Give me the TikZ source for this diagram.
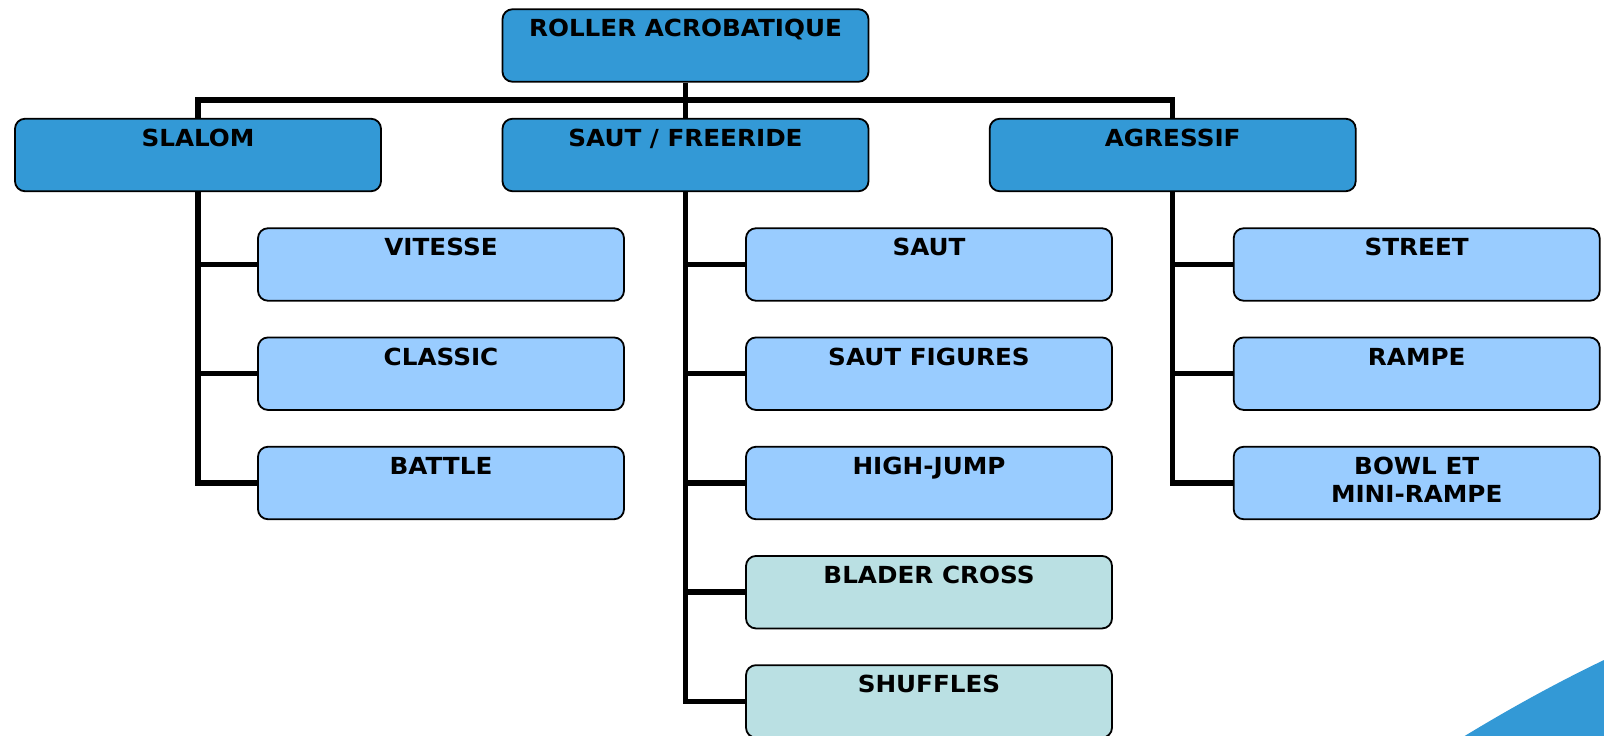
\documentclass[tikz,border=0pt]{standalone}
\usepackage{fontspec}
\setmainfont{DejaVu Sans}[BoldFeatures={FakeStretch=1.05}]
\usetikzlibrary{backgrounds}
\definecolor{darkblue}{RGB}{51,153,214}
\definecolor{lightblue}{RGB}{153,204,255}
\definecolor{lightteal}{RGB}{186,224,227}
\tikzset{
  box/.style={draw=black, line width=1.8pt, rounded corners=10pt, minimum width=366pt, minimum height=72.5pt, inner sep=0pt},
  boxA/.style={box, fill=darkblue},
  boxB/.style={box, fill=lightblue},
  boxC/.style={box, fill=lightteal},
  lbl/.style={anchor=base, inner sep=0pt, font=\fontsize{23.5}{28.3}\selectfont\bfseries},
  conn/.style={draw=black, line width=5.5pt, line join=miter}
}
\begin{document}
\begin{tikzpicture}[x=1pt,y=-1pt]
\useasboundingbox (0,0) rectangle (1604,736);
% decorative shape bottom right
\fill[darkblue] (1463,737) .. controls (1509,709) and (1556,683) .. (1604,660) -- (1604,737) -- cycle;
% boxes
\node[boxA] (top) at (685.5,45.5) {};
\node[boxA] (slalom) at (198,155) {};
\node[boxA] (saut) at (685.5,155) {};
\node[boxA] (agressif) at (1172.7,155) {};
\node[boxB] (vitesse) at (441,264.5) {};
\node[boxB] (classic) at (441,373.7) {};
\node[boxB] (battle) at (441,483) {};
\node[boxB] (sautj) at (929,264.5) {};
\node[boxB] (figures) at (929,373.7) {};
\node[boxB] (highjump) at (929,483) {};
\node[boxC] (blader) at (929,592.2) {};
\node[boxC] (shuffles) at (929,701.4) {};
\node[boxB] (street) at (1416.7,264.5) {};
\node[boxB] (rampe) at (1416.7,373.7) {};
\node[boxB] (bowl) at (1416.7,483) {};
% labels
\node[lbl] (ttop) at ([yshift=-28.5pt]top.north) {ROLLER ACROBATIQUE};
\node[lbl] (tslalom) at ([yshift=-28.5pt]slalom.north) {SLALOM};
\node[lbl] (tsaut) at ([yshift=-28.5pt]saut.north) {SAUT / FREERIDE};
\node[lbl] (tagressif) at ([yshift=-28.5pt]agressif.north) {AGRESSIF};
\node[lbl] (tvitesse) at ([yshift=-28.5pt]vitesse.north) {VITESSE};
\node[lbl] (tclassic) at ([yshift=-28.5pt]classic.north) {CLASSIC};
\node[lbl] (tbattle) at ([yshift=-28.5pt]battle.north) {BATTLE};
\node[lbl] (tsautj) at ([yshift=-28.5pt]sautj.north) {SAUT};
\node[lbl] (tfigures) at ([yshift=-28.5pt]figures.north) {SAUT FIGURES};
\node[lbl] (thighjump) at ([yshift=-28.5pt]highjump.north) {HIGH-JUMP};
\node[lbl] (tblader) at ([yshift=-28.5pt]blader.north) {BLADER CROSS};
\node[lbl] (tshuffles) at ([yshift=-28.5pt]shuffles.north) {SHUFFLES};
\node[lbl] (tstreet) at ([yshift=-28.5pt]street.north) {STREET};
\node[lbl] (trampe) at ([yshift=-28.5pt]rampe.north) {RAMPE};
\node[lbl] (tbowl) at ([yshift=-28.5pt]bowl.north) {\begin{tabular}[t]{@{}c@{}}BOWL ET\\MINI-RAMPE\end{tabular}};
% connectors
\coordinate (bus) at (685.5,100);
\begin{scope}[on background layer]
\draw[conn] (top.south) -- (saut.north);
\draw[conn] (slalom.north) |- (bus) -| (agressif.north);
\draw[conn] (slalom.south) |- (vitesse.west);
\draw[conn] (slalom.south) |- (classic.west);
\draw[conn] (slalom.south) |- (battle.west);
\draw[conn] (saut.south) |- (sautj.west);
\draw[conn] (saut.south) |- (figures.west);
\draw[conn] (saut.south) |- (highjump.west);
\draw[conn] (saut.south) |- (blader.west);
\draw[conn] (saut.south) |- (shuffles.west);
\draw[conn] (agressif.south) |- (street.west);
\draw[conn] (agressif.south) |- (rampe.west);
\draw[conn] (agressif.south) |- (bowl.west);
\end{scope}
\end{tikzpicture}
\end{document}
